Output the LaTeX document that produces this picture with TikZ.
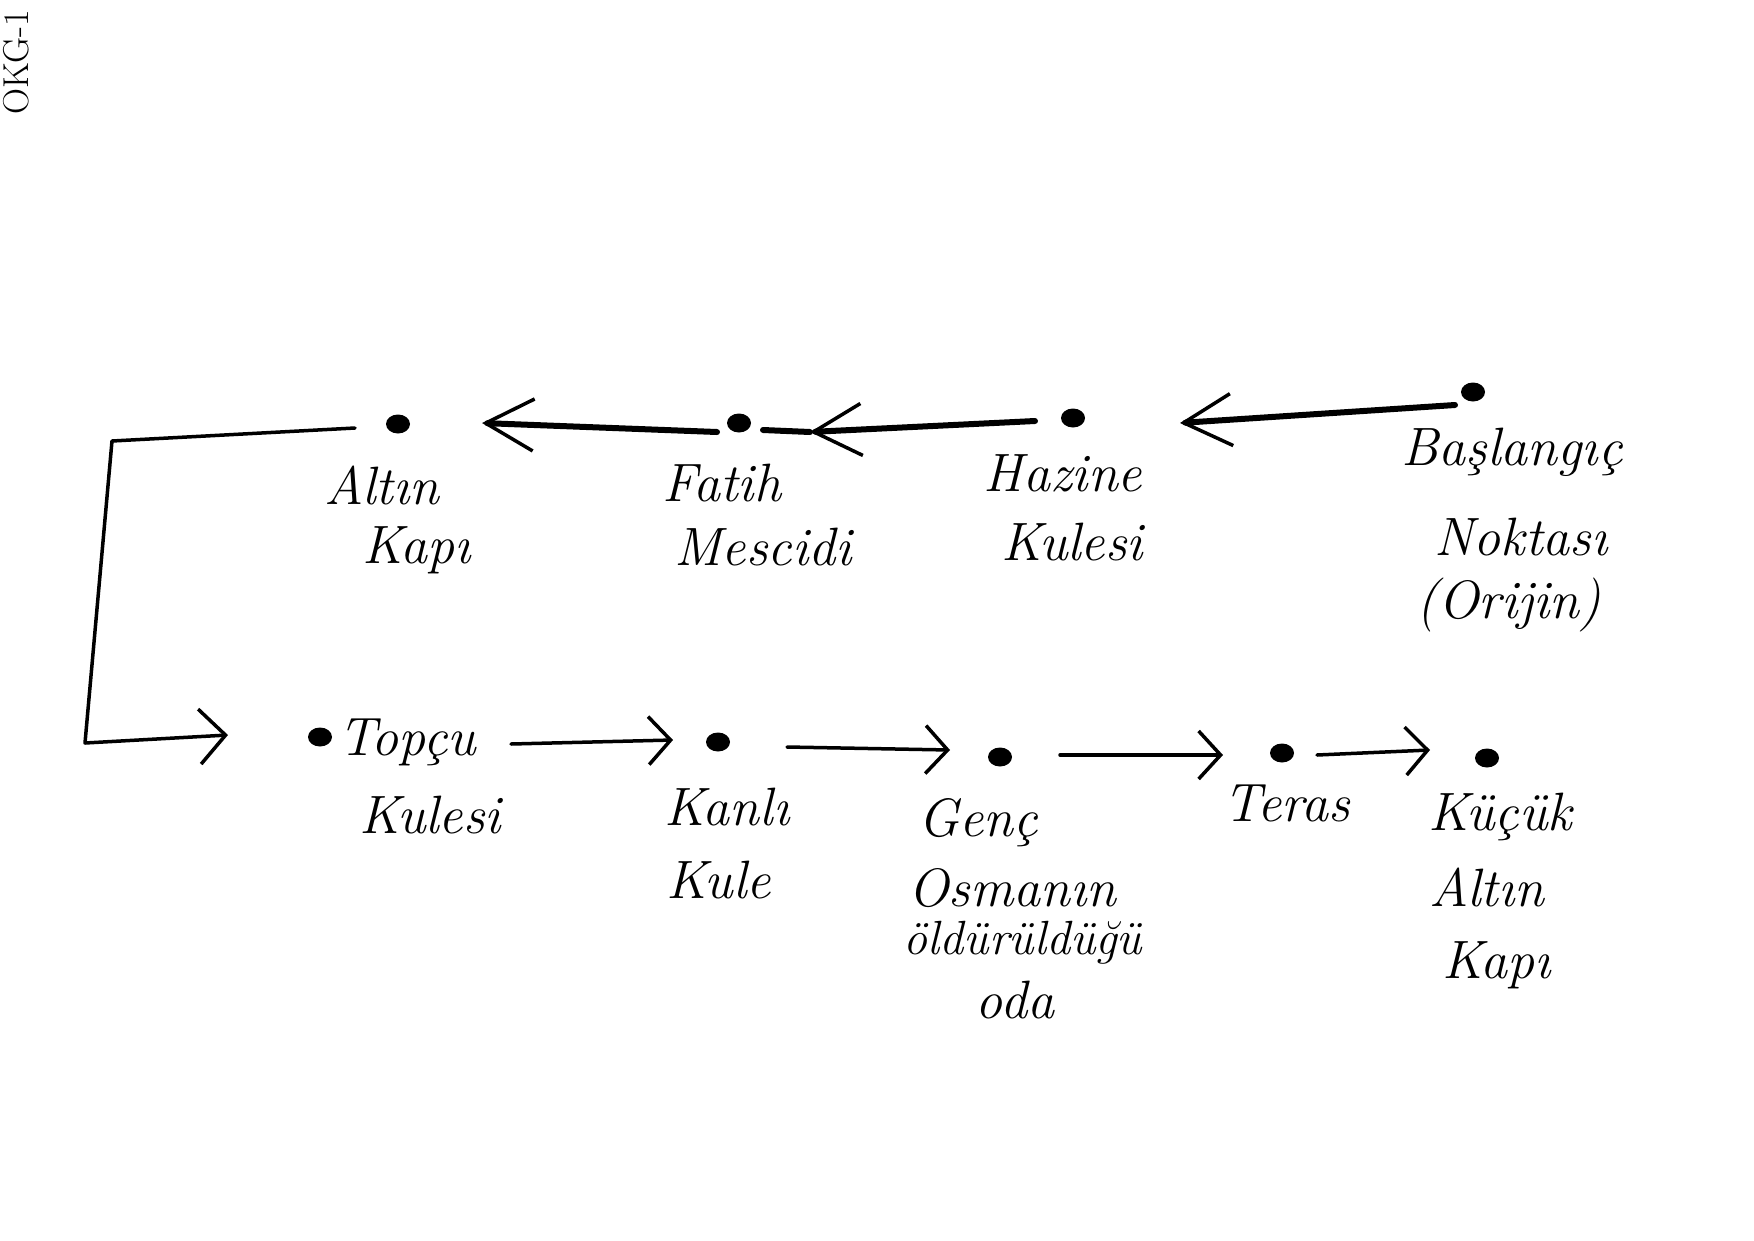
\documentclass[tikz,border=0pt]{standalone}
\usepackage{fontspec}
\usetikzlibrary{arrows.meta,calc,shapes.geometric}
\begin{document}
\begin{tikzpicture}[x=1pt,y=-1pt,
  dot/.style={ellipse,fill=black,inner sep=0pt,minimum width=24pt,minimum height=19pt},
  lbl/.style={font=\fontsize{54}{64}\selectfont\itshape,inner sep=0pt},
  topline/.style={line width=6pt,line cap=round},
  toparr/.style={line width=6pt,line cap=round,-{Straight Barb[length=48pt,width=52pt,line width=3.5pt]}},
  frame/.style={line width=3.5pt,line cap=round,line join=round},
  botarr/.style={line width=3.5pt,line cap=round,-{Straight Barb[length=22pt,width=48pt,line width=3.5pt]}},
]
\useasboundingbox (0,0) rectangle (1754,1240);
\fill[white] (0,0) rectangle (1754,1240);

% corner mark
\node[rotate=90,font=\fontsize{36}{40}\selectfont,inner sep=0pt] (okg) at (16,62) {OKG-1};

% dots
\node[dot] (alt) at (398,424) {};
\node[dot] (fat) at (739,423) {};
\node[dot] (haz) at (1073,418) {};
\node[dot] (bas) at (1473,392) {};
\node[dot] (top) at (320,737) {};
\node[dot] (kan) at (718,742) {};
\node[dot] (gen) at (1000,757) {};
\node[dot] (ter) at (1282,753) {};
\node[dot] (kuc) at (1487,758) {};

% labels
\node[lbl] (l-alt1) at (382,485) {Altın};
\node[lbl] (l-alt2) at (417,550) {Kapı};
\node[lbl] (l-fat1) at (722,483) {Fatih};
\node[lbl] (l-fat2) at (763,547) {Mescidi};
\node[lbl] (l-haz1) at (1063,473) {Hazine};
\node[lbl] (l-haz2) at (1072,542) {Kulesi};
\node[lbl] (l-bas1) at (1512,452) {Başlangıç};
\node[lbl] (l-bas2) at (1521,537) {Noktası};
\node[lbl] (l-bas3) at (1509,605) {(Orijin)};
\node[lbl] (l-top1) at (407,742) {Topçu};
\node[lbl] (l-top2) at (430,815) {Kulesi};
\node[lbl] (l-kan1) at (727,807) {Kanlı};
\node[lbl] (l-kan2) at (719,880) {Kule};
\node[lbl] (l-gen1) at (978,823) {Genç};
\node[lbl] (l-gen2) at (1012,888) {Osmanın};
\node[lbl,font=\fontsize{48}{58}\selectfont\itshape] (l-gen3) at (1023,943) {öldürüldüğü};
\node[lbl] (l-gen4) at (1015,1000) {oda};
\node[lbl] (l-ter) at (1287,803) {Teras};
\node[lbl] (l-kuc1) at (1500,817) {Küçük};
\node[lbl] (l-kuc2) at (1487,887) {Altın};
\node[lbl] (l-kuc3) at (1497,965) {Kapı};

% top row connectors
\draw[toparr] ($(bas)+(-18,13)$) -- ($(haz)+(107,5)$);
\draw[toparr] ($(haz)+(-38,3)$) -- ($(fat)+(71,9)$);
\draw[topline] ($(fat)+(71,9)$) -- ($(fat)+(24,7)$);
\draw[toparr] ($(fat)+(-22,9)$) -- ($(alt)+(84,-1)$);

% return frame
\coordinate (c1) at (112,441);
\coordinate (c2) at (85,743);
\draw[frame,-{Straight Barb[length=26pt,width=55pt,line width=3.5pt]}] ($(alt)+(-43,4)$) -- (c1) -- (c2) -- ($(top)+(-92,-2)$);

% bottom row connectors
\draw[botarr] ($(top)+(191,7)$) -- ($(kan)+(-45,-2)$);
\draw[botarr] ($(kan)+(69,5)$) -- ($(gen)+(-50,-7)$);
\draw[botarr] ($(gen)+(60,-2)$) -- ($(ter)+(-59,2)$);
\draw[botarr] ($(ter)+(35,2)$) -- ($(kuc)+(-57,-8)$);
\end{tikzpicture}
\end{document}
